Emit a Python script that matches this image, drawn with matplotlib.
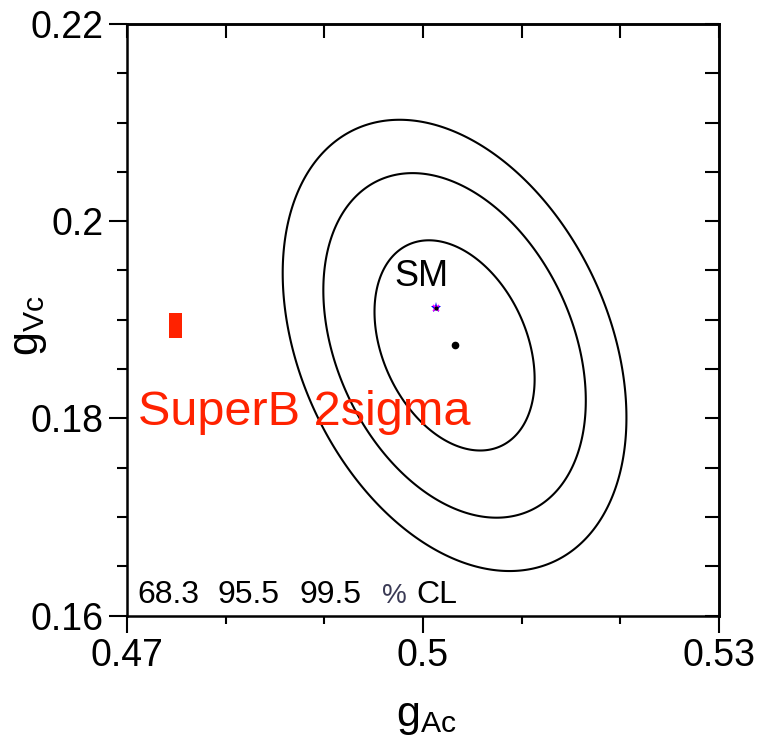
import numpy as np
import matplotlib
matplotlib.use("Agg")
import matplotlib.pyplot as plt
from matplotlib.ticker import FixedLocator, MultipleLocator

plt.rcParams['font.family'] = ['Liberation Sans', 'DejaVu Sans']
plt.rcParams['mathtext.fontset'] = 'custom'
plt.rcParams['mathtext.rm'] = 'Liberation Sans'
plt.rcParams['mathtext.it'] = 'Liberation Sans'

# fit result (centre, widths, correlation) and confidence levels
fit_center = (0.5032, 0.1874)
fit_sigma = (0.00535, 0.00703)
fit_rho = -0.32
cl_labels = ["68.3", "95.5", "99.5"]
cl_dchi2 = [2.30, 6.18, 10.6]

# standard model point
sm_point = (0.5013, 0.1912)

# SuperB 2 sigma box: centre and half widths
superb_center = (0.4749, 0.1894)
superb_half = (0.00066, 0.00127)

x_major = [0.47, 0.5, 0.53]
x_major_labels = ["0.47", "0.5", "0.53"]
y_major = [0.16, 0.18, 0.2, 0.22]
y_major_labels = ["0.16", "0.18", "0.2", "0.22"]

fig = plt.figure(figsize=(7.59, 7.44), dpi=100)
ax = fig.add_axes([0.1673, 0.1727, 0.7800, 0.7950])

# chi2 surface of the 2d gaussian fit
gx = np.linspace(0.47, 0.53, 600)
gy = np.linspace(0.16, 0.22, 600)
X, Y = np.meshgrid(gx, gy)
dx = (X - fit_center[0]) / fit_sigma[0]
dy = (Y - fit_center[1]) / fit_sigma[1]
chi2 = (dx**2 - 2 * fit_rho * dx * dy + dy**2) / (1 - fit_rho**2)
ax.contour(X, Y, chi2, levels=cl_dchi2, colors='k', linewidths=1.5)

ax.plot(fit_center[0], fit_center[1], 'o', color='k', markersize=4.5)

ax.plot(sm_point[0], sm_point[1], '*', color='blue', markersize=8, markeredgewidth=0)
ax.plot(sm_point[0], sm_point[1], 'x', color='magenta', markersize=5, markeredgewidth=1.2)
ax.plot(sm_point[0], sm_point[1], '.', color='k', markersize=4)
ax.text(sm_point[0] - 0.0015, sm_point[1] + 0.0022, "SM", fontsize=26,
        ha='center', va='baseline')

ax.bar(superb_center[0], 2 * superb_half[1], width=2 * superb_half[0],
       bottom=superb_center[1] - superb_half[1], color='#ff2200')
ax.text(0.4711, 0.1793, "SuperB 2sigma", fontsize=35, color='#ff2200',
        ha='left', va='baseline')

# CL legend along the bottom
cl_x = [0.4711, 0.4792, 0.4875]
for xx, lab in zip(cl_x, cl_labels):
    ax.text(xx, 0.1613, lab, fontsize=23, ha='left', va='baseline')
ax.text(0.4958, 0.1613, "%", fontsize=20, ha='left', va='baseline', color='#3a3a55')
ax.text(0.4993, 0.1613, "CL", fontsize=23, ha='left', va='baseline')

ax.set_xlim(0.47, 0.53)
ax.set_ylim(0.16, 0.22)
ax.xaxis.set_major_locator(FixedLocator(x_major))
ax.set_xticklabels(x_major_labels)
ax.yaxis.set_major_locator(FixedLocator(y_major))
ax.set_yticklabels(y_major_labels)
ax.xaxis.set_minor_locator(MultipleLocator(0.01))
ax.yaxis.set_minor_locator(MultipleLocator(0.005))

for sp in ax.spines.values():
    sp.set_linewidth(1.8)
ax.tick_params(axis='x', which='major', direction='out', length=12, width=1.5,
               labelsize=27, pad=4)
ax.tick_params(axis='x', which='minor', direction='out', length=6, width=1.5)
ax.tick_params(axis='y', which='major', direction='out', length=13, width=1.5,
               labelsize=27, pad=4)
ax.tick_params(axis='y', which='minor', direction='out', length=7, width=1.5)

# inward ticks on the top and right frame
top = ax.secondary_xaxis('top')
top.xaxis.set_major_locator(FixedLocator(x_major))
top.xaxis.set_minor_locator(MultipleLocator(0.01))
top.tick_params(which='both', direction='in', length=10, width=1.5, labeltop=False)
right = ax.secondary_yaxis('right')
right.yaxis.set_major_locator(FixedLocator(y_major))
right.yaxis.set_minor_locator(MultipleLocator(0.005))
right.tick_params(which='both', direction='in', length=10, width=1.5, labelright=False)
for sec in (top, right):
    for sp in sec.spines.values():
        sp.set_linewidth(1.8)

ax.set_xlabel(r'$\mathrm{g_{Ac}}$', fontsize=31, ha='center', va='center')
ax.xaxis.set_label_coords(0.505, -0.172)
ax.set_ylabel(r'$\mathrm{g_{Vc}}$', fontsize=31, ha='center', va='center')
ax.yaxis.set_label_coords(-0.165, 0.49)

fig.savefig("out.png", dpi=100)
